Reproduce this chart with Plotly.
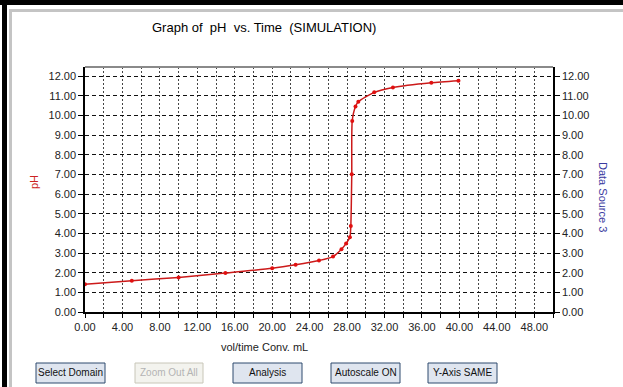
import plotly.graph_objects as go

# ---- data ----
volume_ml = [0, 5, 10, 15, 20, 22.5, 25, 26.5, 27.4, 27.9, 28.3, 28.4, 28.5,
             28.55, 28.9, 29.2, 30.9, 32.9, 37.0, 39.9]
ph_values = [1.41, 1.59, 1.76, 1.98, 2.22, 2.40, 2.62, 2.82, 3.19, 3.49, 3.80,
             4.37, 7.0, 9.72, 10.45, 10.69, 11.17, 11.42, 11.66, 11.76]
x_tick_vals = [0, 4, 8, 12, 16, 20, 24, 28, 32, 36, 40, 44, 48]
x_tick_text = ["%.2f" % v for v in x_tick_vals]
y_tick_vals = list(range(0, 13))
y_tick_text = ["%.2f" % v for v in y_tick_vals]
button_labels = ["Select Domain", "Zoom Out All", "Analysis", "Autoscale ON", "Y-Axis SAME"]

W, H = 623, 387
L, R, T, B = 85, 553, 67, 312  # plot area in pixels


def px(x):
    return (x - L) / (R - L)


def py(y):
    return (B - y) / (B - T)


FONT = "Liberation Sans, Arial, sans-serif"
RED = "#cc1a1a"

fig = go.Figure()
fig.add_trace(go.Scatter(
    x=volume_ml, y=ph_values, mode="lines+markers",
    line=dict(color=RED, width=1.5, shape="spline", smoothing=0.6),
    marker=dict(color="#e01010", size=4),
    showlegend=False, hoverinfo="x+y"))
fig.add_trace(go.Scatter(
    x=volume_ml, y=ph_values, mode="lines", yaxis="y2",
    line=dict(color="rgba(0,0,0,0)", width=0),
    showlegend=False, hoverinfo="skip"))

axis_font = dict(family=FONT, size=11, color="#222222")

fig.update_layout(
    width=W, height=H,
    margin=dict(l=L, r=W - R, t=T, b=H - B, pad=0),
    paper_bgcolor="white", plot_bgcolor="white",
    xaxis=dict(
        range=[0, 50], tickvals=x_tick_vals, ticktext=x_tick_text,
        ticks="outside", ticklen=4, tickcolor="black", tickwidth=1,
        tickfont=axis_font,
        showgrid=True, gridcolor="#444444", gridwidth=1, griddash="2px,2px",
        minor=dict(dtick=2, tick0=0, ticks="outside", ticklen=4, tickcolor="black",
                   showgrid=True, gridcolor="#444444", griddash="2px,2px"),
        showline=True, linecolor="black", linewidth=1.5,
        zeroline=False, fixedrange=True),
    yaxis=dict(
        range=[0, 12.46], tickvals=y_tick_vals, ticktext=y_tick_text,
        ticks="outside", ticklen=5, tickcolor="black",
        tickfont=axis_font,
        showgrid=True, gridcolor="#111111", gridwidth=1, griddash="4px,3px",
        showline=True, linecolor="black", linewidth=1.5,
        zeroline=False, fixedrange=True),
    yaxis2=dict(
        range=[0, 12.46], tickvals=y_tick_vals, ticktext=y_tick_text,
        overlaying="y", side="right",
        ticks="outside", ticklen=5, tickcolor="black",
        tickfont=axis_font, showgrid=False,
        showline=True, linecolor="black", linewidth=1.5,
        zeroline=False, fixedrange=True),
)

shapes = []
# window frame
shapes.append(dict(type="rect", xref="paper", yref="paper",
                   x0=px(0), x1=px(W), y0=py(0), y1=py(5),
                   fillcolor="black", line=dict(width=0), layer="above"))
shapes.append(dict(type="rect", xref="paper", yref="paper",
                   x0=px(2), x1=px(7), y0=py(0), y1=py(H),
                   fillcolor="black", line=dict(width=0), layer="above"))
shapes.append(dict(type="rect", xref="paper", yref="paper",
                   x0=px(9), x1=px(W), y0=py(9), y1=py(12),
                   fillcolor="#c4c4c4", line=dict(width=0), layer="above"))
shapes.append(dict(type="rect", xref="paper", yref="paper",
                   x0=px(9), x1=px(12), y0=py(9), y1=py(H),
                   fillcolor="#c4c4c4", line=dict(width=0), layer="above"))
# gray top frame of plot
shapes.append(dict(type="line", xref="paper", yref="paper",
                   x0=0, x1=1, y0=1, y1=1, line=dict(color="#8a8a8a", width=2)))


def note(text, x, y, size, color, angle=0):
    return dict(text=text, xref="paper", yref="paper", x=px(x), y=py(y),
                xanchor="center", yanchor="middle", showarrow=False,
                textangle=angle, font=dict(family=FONT, size=size, color=color))


annotations = [
    note("Graph of  pH  vs. Time  (SIMULATION)", 264, 27, 13, "#000000"),
    note("vol/time Conv. mL", 264, 347, 11, "#222222"),
    note("pH", 34, 182, 11, "#cc2222", -90),
    note("Data Source 3", 603, 197, 11, "#3a3aa0", 90),
]

button_x = [(36, 105), (135, 203), (233, 302), (331, 400), (428, 497)]
for (bx0, bx1), label in zip(button_x, button_labels):
    disabled = label == "Zoom Out All"
    shapes.append(dict(type="rect", xref="paper", yref="paper",
                       x0=px(bx0), x1=px(bx1), y0=py(363), y1=py(383),
                       fillcolor="#f3f3ee" if disabled else "#dfe5ef",
                       line=dict(color="#c8c6b8" if disabled else "#2e4a6e", width=1),
                       layer="above"))
    annotations.append(note(label, (bx0 + bx1) / 2, 373, 10,
                            "#b4b4b4" if disabled else "#111111"))

fig.update_layout(shapes=shapes, annotations=annotations)
fig.write_html("out.html",
               config={"displayModeBar": False},
               post_script="document.body.style.margin='0';"
                           "document.body.style.padding='0';"
                           "document.body.style.overflow='hidden';")
